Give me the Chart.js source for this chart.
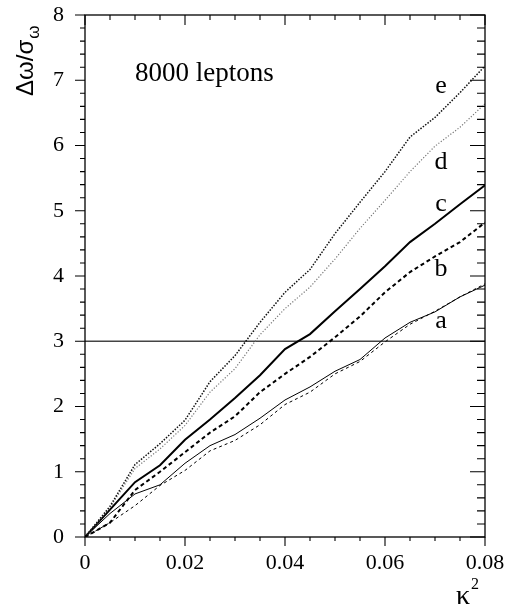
<!DOCTYPE html>
<html>
<head>
<meta charset="utf-8">
<script src="https://cdn.jsdelivr.net/npm/chart.js@4.4.1/dist/chart.umd.min.js"></script>
<style>
  html, body { margin: 0; padding: 0; background: #fff; }
  #wrap { width: 506px; height: 608px; position: relative; }
</style>
</head>
<body>
<div id="wrap"><canvas id="chart" width="506" height="608"></canvas></div>
<script>
// kappa^2 values along the x axis
const kappa2 = [0, 0.005, 0.01, 0.015, 0.02, 0.025, 0.03, 0.035, 0.04, 0.045, 0.05, 0.055, 0.06, 0.065, 0.07, 0.075, 0.08];

// curves (delta omega / sigma omega)
const seriesA  = [0, 0.36, 0.66, 0.80, 1.13, 1.40, 1.57, 1.82, 2.10, 2.30, 2.54, 2.72, 3.05, 3.29, 3.45, 3.68, 3.86];
const seriesA2 = [0, 0.22, 0.48, 0.79, 1.02, 1.32, 1.48, 1.72, 2.03, 2.22, 2.50, 2.69, 2.99, 3.26, 3.46, 3.68, 3.88];
const seriesB  = [0, 0.22, 0.72, 1.00, 1.30, 1.60, 1.85, 2.22, 2.50, 2.76, 3.06, 3.38, 3.75, 4.06, 4.30, 4.52, 4.82];
const seriesC  = [0, 0.42, 0.84, 1.10, 1.49, 1.80, 2.13, 2.48, 2.88, 3.11, 3.46, 3.80, 4.15, 4.52, 4.80, 5.10, 5.39];
const seriesD  = [0, 0.45, 1.05, 1.35, 1.71, 2.22, 2.58, 3.10, 3.50, 3.83, 4.26, 4.73, 5.16, 5.60, 5.99, 6.28, 6.64];
const seriesE  = [0, 0.47, 1.11, 1.43, 1.79, 2.38, 2.78, 3.29, 3.75, 4.10, 4.65, 5.13, 5.60, 6.13, 6.43, 6.81, 7.22];

// 3 sigma reference line
const threshold = 3;

// curve labels: [text, x, y] in data units
const curveLabels = [['e', 0.0712, 6.80], ['d', 0.0712, 5.64], ['c', 0.0712, 5.00], ['b', 0.0712, 4.00], ['a', 0.0712, 3.20]];

const xMin = 0, xMax = 0.08, yMin = 0, yMax = 8;

function toPoints(ys) {
    return kappa2.map((k, i) => ({ x: k, y: ys[i] }));
}

// draws box, mirrored ticks and the text annotations
const framePlugin = {
    id: 'frame',
    afterDraw(chart) {
        const ctx = chart.ctx;
        const { left, right, top, bottom } = chart.chartArea;
        const xs = chart.scales.x, ys = chart.scales.y;
        ctx.save();
        ctx.strokeStyle = '#000';
        ctx.lineWidth = 1.3;
        ctx.strokeRect(left, top, right - left, bottom - top);

        ctx.lineWidth = 1.1;
        ctx.beginPath();
        for (let k = 0; k <= 16; k++) {
            const px = xs.getPixelForValue(k * 0.005);
            const major = k % 4 === 0;
            ctx.moveTo(px, bottom); ctx.lineTo(px, bottom + (major ? 9 : 4));
            ctx.moveTo(px, top); ctx.lineTo(px, top + (major ? 10 : 5));
        }
        for (let k = 0; k <= 40; k++) {
            const py = ys.getPixelForValue(k * 0.2);
            const major = k % 5 === 0;
            ctx.moveTo(left - (major ? 10 : 5), py); ctx.lineTo(left, py);
            ctx.moveTo(right - (major ? 15 : 8), py); ctx.lineTo(right, py);
        }
        ctx.stroke();

        ctx.fillStyle = '#000';
        // text inside the frame
        ctx.font = '27px "Liberation Serif"';
        ctx.textAlign = 'left';
        ctx.textBaseline = 'alphabetic';
        ctx.fillText('8000 leptons', 135, 81);

        ctx.font = '26px "Liberation Serif"';
        ctx.textAlign = 'center';
        curveLabels.forEach(([t, lx, ly]) => {
            ctx.fillText(t, xs.getPixelForValue(lx), ys.getPixelForValue(ly));
        });

        // x axis title: kappa squared
        ctx.textAlign = 'left';
        ctx.font = '28px "Liberation Serif"';
        ctx.fillText('\u03BA', 456, 604);
        const kw = ctx.measureText('\u03BA').width;
        ctx.font = '16px "Liberation Serif"';
        ctx.fillText('2', 456 + kw + 1, 589);

        // y axis title, rotated
        ctx.translate(33, 96);
        ctx.rotate(-Math.PI / 2);
        ctx.font = '24px "Liberation Sans"';
        const main = '\u0394\u03C9/\u03C3';
        ctx.fillText(main, 0, 0);
        const w = ctx.measureText(main).width;
        ctx.font = '17px "Liberation Sans"';
        ctx.fillText('\u03C9', w + 1, 6);
        ctx.restore();
    }
};

const ctx = document.getElementById('chart');
new Chart(ctx.getContext('2d'), {
    type: 'line',
    data: {
        datasets: [
            { data: toPoints(seriesE), borderColor: '#111', borderWidth: 1.5, borderDash: [1.5, 1.5] },
            { data: toPoints(seriesD), borderColor: '#777', borderWidth: 1.2, borderDash: [1.2, 1.8] },
            { data: toPoints(seriesC), borderColor: '#000', borderWidth: 2 },
            { data: toPoints(seriesB), borderColor: '#000', borderWidth: 2, borderDash: [4, 3] },
            { data: toPoints(seriesA), borderColor: '#000', borderWidth: 1 },
            { data: toPoints(seriesA2), borderColor: '#000', borderWidth: 1, borderDash: [3, 3] },
            { data: [{ x: xMin, y: threshold }, { x: xMax, y: threshold }], borderColor: '#444', borderWidth: 1.3 }
        ]
    },
    options: {
        responsive: false,
        animation: false,
        events: [],
        layout: { padding: { left: 0, right: 21, top: 15, bottom: 0 } },
        elements: { point: { radius: 0 }, line: { tension: 0 } },
        plugins: { legend: { display: false }, tooltip: { enabled: false } },
        scales: {
            x: {
                type: 'linear',
                min: xMin,
                max: xMax,
                grid: { display: false },
                border: { display: false },
                afterFit(scale) {
                    scale.height = 71;
                    scale.paddingLeft = 0;
                    scale.paddingRight = 0;
                },
                ticks: {
                    stepSize: 0.02,
                    padding: 5,
                    color: '#000',
                    maxRotation: 0,
                    font: { family: 'Liberation Serif', size: 22 },
                    callback: v => (Math.abs(v) < 1e-9 ? '0' : v.toFixed(2))
                }
            },
            y: {
                min: yMin,
                max: yMax,
                grid: { display: false },
                border: { display: false },
                afterFit(scale) {
                    scale.width = 85;
                    scale.paddingTop = 0;
                    scale.paddingBottom = 0;
                },
                ticks: {
                    stepSize: 1,
                    padding: 13,
                    color: '#000',
                    font: { family: 'Liberation Serif', size: 22 }
                }
            }
        }
    },
    plugins: [framePlugin]
});
</script>
</body>
</html>
